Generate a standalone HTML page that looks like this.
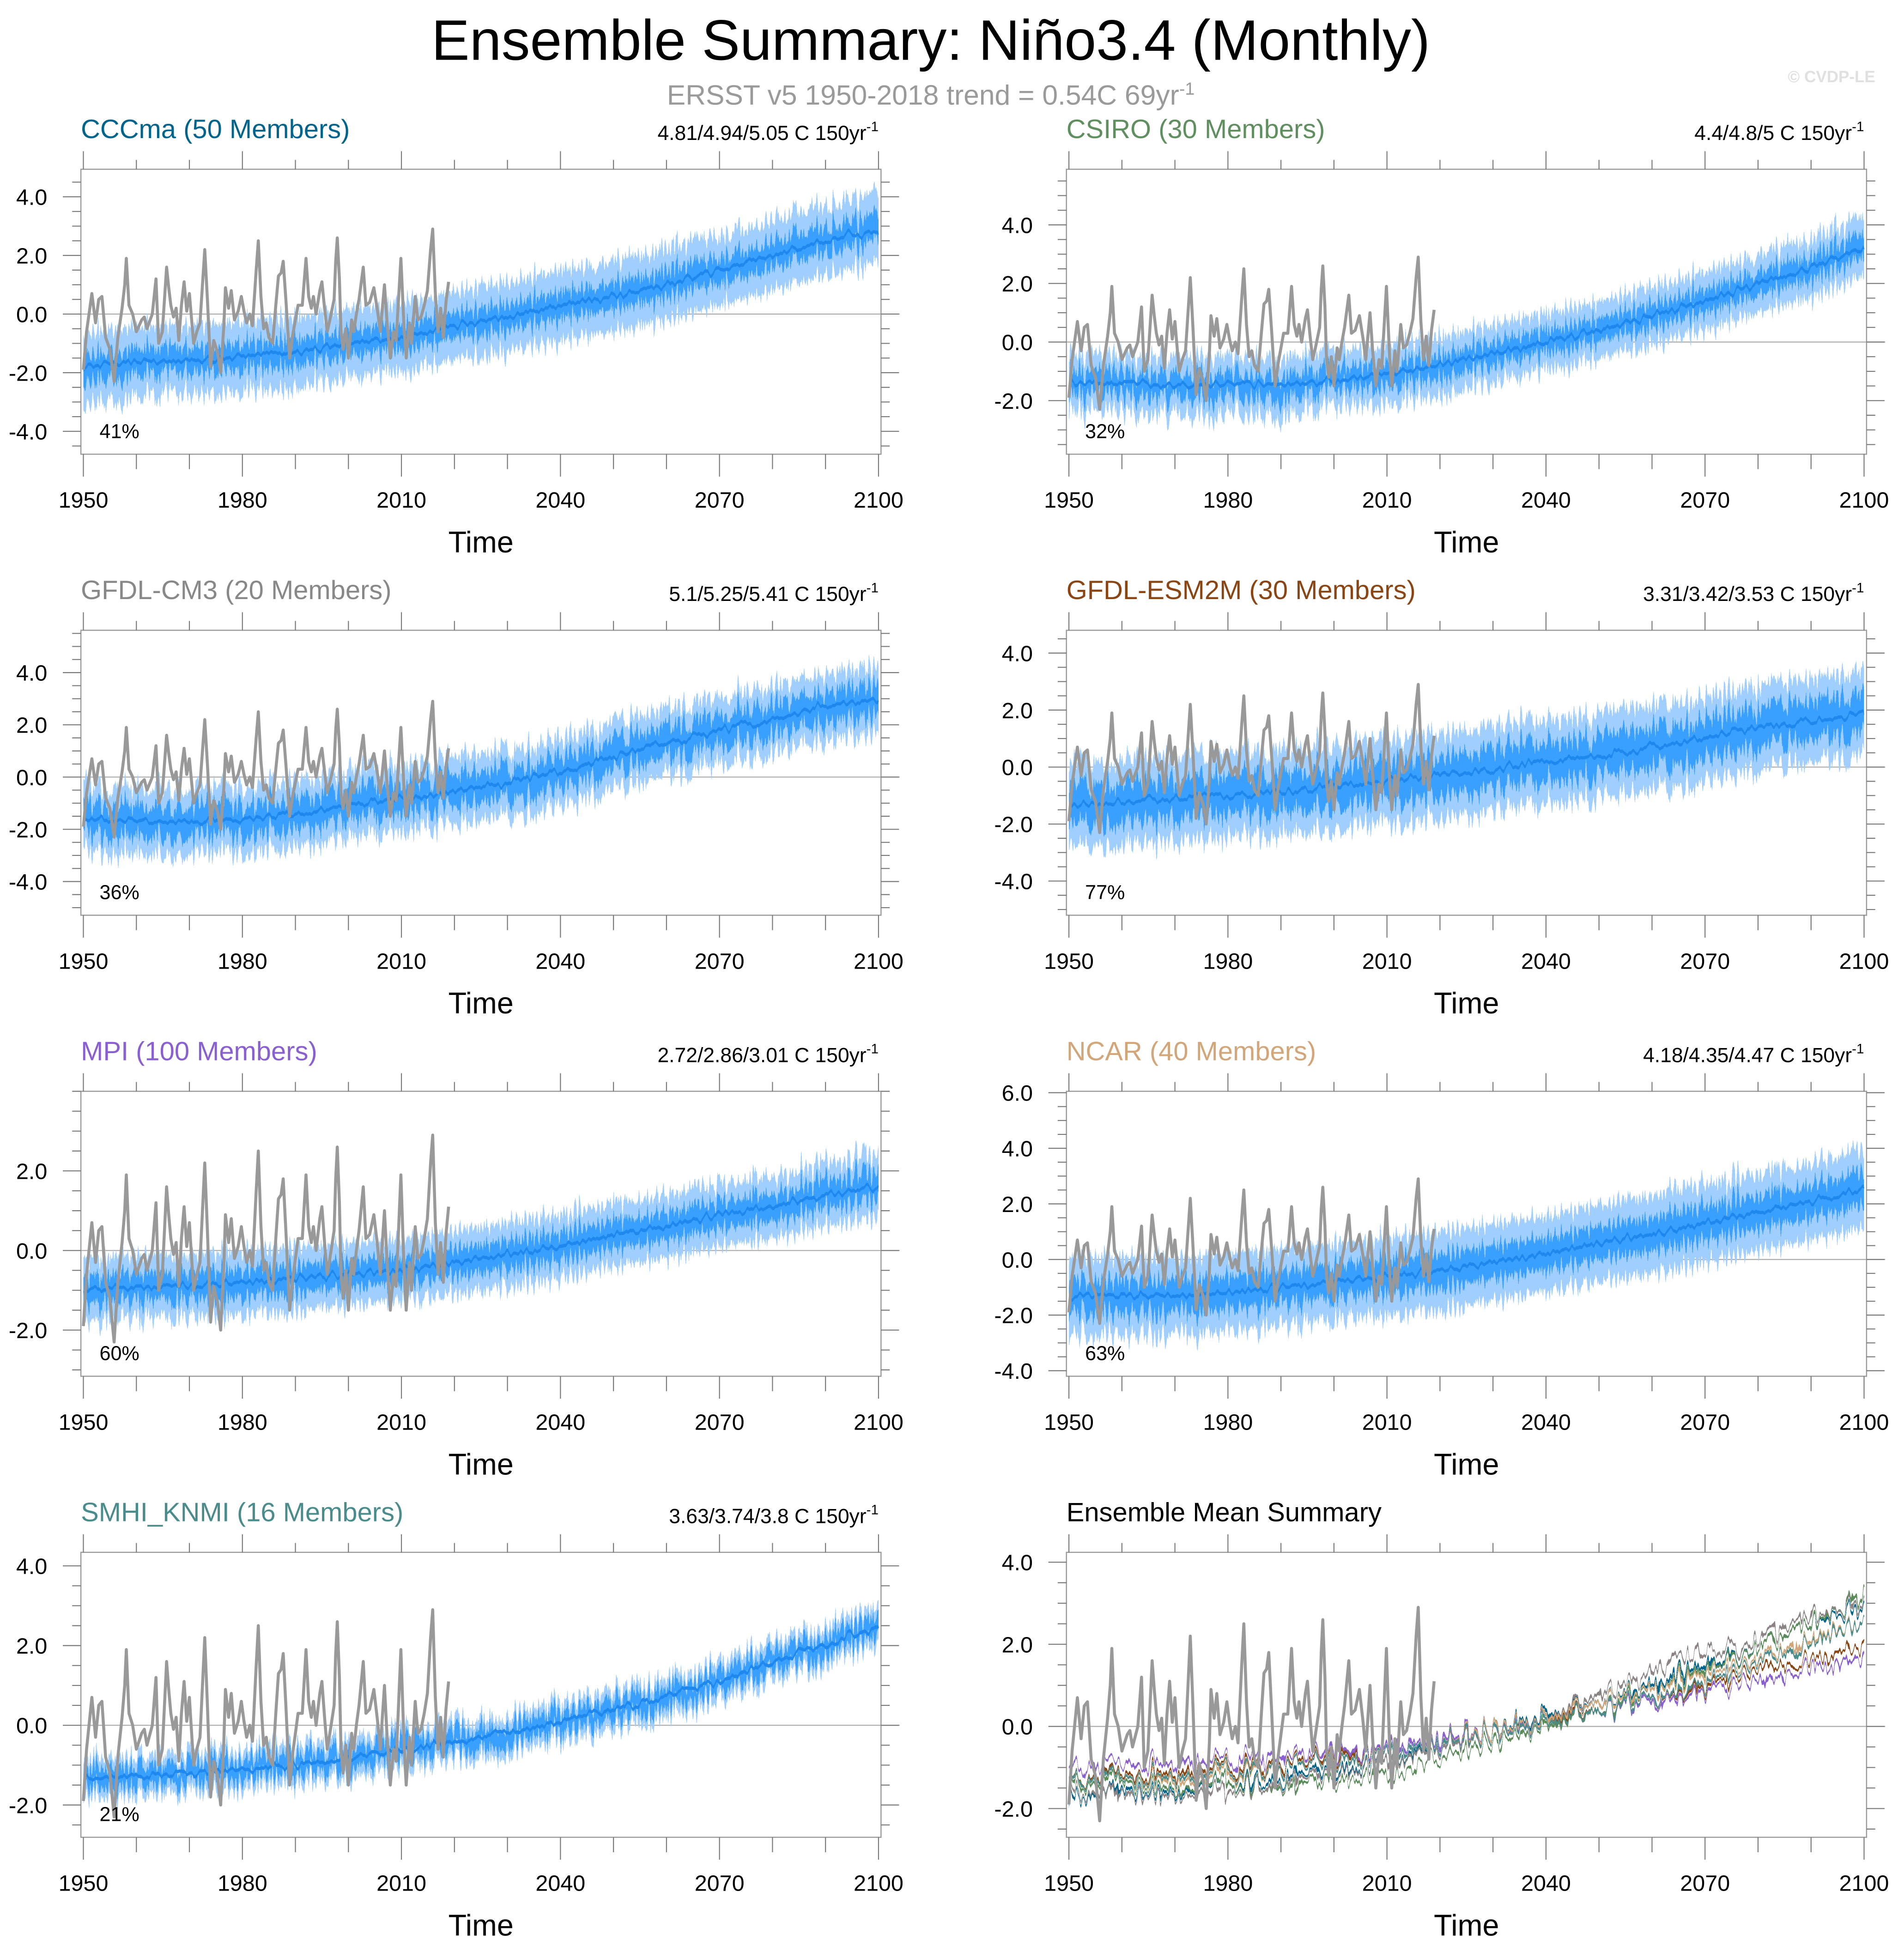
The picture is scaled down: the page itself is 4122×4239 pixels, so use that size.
<!DOCTYPE html>
<html><head><meta charset="utf-8">
<style>
html,body{margin:0;padding:0;background:#fff;}
svg{display:block;font-family:"Liberation Sans",sans-serif;}
</style></head>
<body>
<svg id="chart" xmlns="http://www.w3.org/2000/svg" width="4122" height="4239" viewBox="0 0 1530.1 1573.5">
<defs>
<filter id="spiky" x="-0.02" y="-0.6" width="1.04" height="2.2" primitiveUnits="userSpaceOnUse" color-interpolation-filters="sRGB">
  <feTurbulence type="fractalNoise" baseFrequency="0.55 0.004" numOctaves="2" seed="3" result="t"/>
  <feColorMatrix in="t" type="matrix" values="0 0 0 0 0.5  0 1 0 0 0  0 0 1 0 0  0 0 0 1 0" result="m"/>
  <feDisplacementMap in="SourceGraphic" in2="m" scale="38" xChannelSelector="R" yChannelSelector="G"/>
</filter>
<filter id="wiggle" x="-0.02" y="-0.6" width="1.04" height="2.2" primitiveUnits="userSpaceOnUse" color-interpolation-filters="sRGB">
  <feTurbulence type="fractalNoise" baseFrequency="0.2 0.004" numOctaves="2" seed="7" result="t"/>
  <feColorMatrix in="t" type="matrix" values="0 0 0 0 0.5  0 1 0 0 0  0 0 1 0 0  0 0 0 1 0" result="m"/>
  <feDisplacementMap in="SourceGraphic" in2="m" scale="12" xChannelSelector="R" yChannelSelector="G"/>
</filter>
<filter id="wiggle2" x="-0.02" y="-0.6" width="1.04" height="2.2" primitiveUnits="userSpaceOnUse" color-interpolation-filters="sRGB">
  <feTurbulence type="fractalNoise" baseFrequency="0.25 0.02" numOctaves="2" seed="11" result="t"/>
  <feColorMatrix in="t" type="matrix" values="0 0 0 0 0.5  0 1 0 0 0  0 0 1 0 0  0 0 0 1 0" result="m"/>
  <feDisplacementMap in="SourceGraphic" in2="m" scale="36" xChannelSelector="R" yChannelSelector="G"/>
</filter>
</defs>
<text x="748" y="48" font-size="46" text-anchor="middle" fill="#000">Ensemble Summary: Niño3.4 (Monthly)</text>
<text x="748" y="84" font-size="22.5" text-anchor="middle" fill="#9a9a9a">ERSST v5 1950-2018 trend = 0.54C 69yr<tspan dy="-8" font-size="14">-1</tspan></text>
<text x="1507" y="66" font-size="13" font-weight="bold" text-anchor="end" fill="#e0e0e0">© CVDP-LE</text>
<g id="panels"></g>
</svg>
<script>
// ---- Observed ERSST Niño3.4 (years, values) ----
var obsYears = [1950.0,1950.6,1951.6,1952.3,1952.9,1953.5,1954.2,1955.0,1955.8,1956.5,1957.3,1957.8,1958.1,1958.6,1959.3,1960.0,1961.0,1961.5,1962.0,1963.0,1963.7,1964.2,1964.9,1965.7,1966.1,1966.5,1967.0,1967.5,1968.0,1968.5,1969.0,1969.5,1970.0,1970.8,1971.4,1972.0,1972.9,1973.4,1974.0,1974.6,1975.3,1975.9,1976.5,1976.8,1977.4,1977.9,1978.5,1979.2,1979.8,1980.3,1980.8,1981.4,1981.9,1982.6,1983.0,1983.5,1984.0,1984.5,1985.0,1985.7,1986.3,1986.8,1987.3,1987.7,1988.2,1988.9,1989.5,1990.0,1990.5,1991.3,1992.0,1992.5,1993.0,1993.4,1993.9,1994.6,1995.0,1995.5,1996.0,1996.5,1997.3,1997.6,1997.9,1998.3,1998.6,1999.0,1999.5,2000.0,2000.6,2001.0,2001.5,2002.0,2002.8,2003.3,2004.0,2004.8,2005.5,2006.0,2006.8,2007.3,2007.9,2008.5,2009.0,2009.9,2010.5,2010.9,2011.5,2011.9,2012.6,2013.1,2013.7,2014.3,2014.9,2015.5,2015.9,2016.4,2016.9,2017.4,2017.9,2018.4,2018.9];
var obsValues = [-1.9,-0.6,0.7,-0.3,0.5,0.6,-0.8,-1.2,-2.3,-0.8,0.2,1.0,1.9,0.3,0.0,-0.6,-0.2,-0.1,-0.5,0.0,1.2,-1.0,-0.6,1.6,0.9,0.3,-0.1,0.2,-0.9,0.3,1.1,0.1,0.7,-1.0,-0.6,-0.3,2.2,0.5,-1.8,-0.9,-1.3,-2.0,-0.4,0.9,0.2,0.8,-0.2,0.1,0.6,0.1,-0.3,0.0,-0.4,1.5,2.5,0.6,-0.5,-0.3,-0.8,-1.0,0.3,1.3,1.4,1.8,0.5,-1.5,-0.7,-0.2,0.3,0.3,1.9,0.6,0.2,0.6,0.0,0.8,1.1,0.2,-0.6,-0.2,0.5,1.8,2.6,1.2,-0.6,-1.2,-0.5,-1.5,-0.2,-0.6,0.0,0.5,1.6,0.3,0.4,0.9,0.1,-0.6,1.0,-0.3,-1.5,-0.6,-0.9,1.9,-0.5,-1.5,-0.3,-1.0,0.6,-0.2,-0.1,0.3,0.8,2.2,2.9,0.7,-0.6,0.2,-0.8,0.4,1.1];

// ---- Ensemble data: means at decades 1950..2100 ----
var decades = [1950,1960,1970,1980,1990,2000,2010,2020,2030,2040,2050,2060,2070,2080,2090,2100];
var meanCCCma  = [-1.8,-1.6,-1.6,-1.4,-1.3,-1.0,-0.8,-0.4,-0.1,0.3,0.6,1.0,1.5,2.0,2.5,2.9];
var meanCSIRO  = [-1.4,-1.4,-1.5,-1.4,-1.5,-1.3,-1.1,-0.8,-0.4,0.0,0.4,0.9,1.4,2.0,2.5,3.2];
var meanCM3    = [-1.6,-1.7,-1.7,-1.6,-1.4,-1.1,-0.8,-0.5,-0.2,0.2,0.8,1.3,1.8,2.2,2.7,3.0];
var meanESM2M  = [-1.3,-1.2,-1.1,-1.0,-0.9,-0.7,-0.5,-0.3,-0.1,0.2,0.4,0.7,1.0,1.4,1.6,1.9];
var meanMPI    = [-1.0,-0.9,-0.9,-0.8,-0.7,-0.6,-0.5,-0.3,-0.1,0.1,0.4,0.6,0.9,1.1,1.4,1.6];
var meanNCAR   = [-1.3,-1.3,-1.3,-1.2,-1.0,-0.8,-0.6,-0.4,-0.1,0.2,0.6,0.9,1.3,1.7,2.1,2.5];
var meanSMHI   = [-1.3,-1.3,-1.2,-1.1,-1.0,-0.8,-0.6,-0.4,-0.2,0.1,0.4,0.7,1.1,1.6,2.0,2.5];
// band half-widths (inner = dark band, outer = light band)
var innerSpread = [0.45,0.4,0.6,0.7,0.35,0.6,0.25];
var outerSpread = [1.2,1.0,1.3,1.5,0.8,1.4,0.5];
var modelNames = ["CCCma (50 Members)","CSIRO (30 Members)","GFDL-CM3 (20 Members)","GFDL-ESM2M (30 Members)","MPI (100 Members)","NCAR (40 Members)","SMHI_KNMI (16 Members)"];
var trendLabels = ["4.81/4.94/5.05 C 150yr","4.4/4.8/5 C 150yr","5.1/5.25/5.41 C 150yr","3.31/3.42/3.53 C 150yr","2.72/2.86/3.01 C 150yr","4.18/4.35/4.47 C 150yr","3.63/3.74/3.8 C 150yr"];
var pctLabels = ["41%","32%","36%","77%","60%","63%","21%"];
var yTicks = [[-4,-2,0,2,4],[-2,0,2,4],[-4,-2,0,2,4],[-4,-2,0,2,4],[-2,0,2],[-4,-2,0,2,4,6],[-2,0,2,4],[-2,0,2,4]];
var yRanges = [[-4.78,4.94],[-3.83,5.9],[-5.29,5.62],[-5.2,4.8],[-3.16,4.0],[-4.2,6.05],[-2.81,4.34],[-2.7,4.24]];
var xTickYears = [1950,1980,2010,2040,2070,2100];

var allMeans = [meanCCCma,meanCSIRO,meanCM3,meanESM2M,meanMPI,meanNCAR,meanSMHI];
var titleColors = ["#00648c","#5f8f5f","#888888","#8b4513","#8a60d0","#d2a679","#4a8c8c"];
var summaryColors = ["#00648c","#5a8c5a","#8c8484","#8b4513","#8a60d0","#d2a679","#4a8c8c"];
var NS="http://www.w3.org/2000/svg";
var root=document.getElementById('panels');
function mk(tag,attrs,parent){var e=document.createElementNS(NS,tag);for(var k in attrs)e.setAttribute(k,attrs[k]);(parent||root).appendChild(e);return e;}
function interp(xs,ys,x){if(x<=xs[0])return ys[0];for(var i=1;i<xs.length;i++){if(x<=xs[i]){var f=(x-xs[i-1])/(xs[i]-xs[i-1]);return ys[i-1]+f*(ys[i]-ys[i-1]);}}return ys[ys.length-1];}

for(var p=0;p<8;p++){
  var col=p%2,row=Math.floor(p/2);
  var ox=col*792,oy=row*370.5;
  var bx0=65+ox,bx1=708+ox,by0=136+oy,by1=365+oy;
  var tx0=67+ox,tx1=706+ox;
  var yr=yRanges[p];
  var X=(function(a,b){return function(t){return a+(t-1950)*(b-a)/150;};})(tx0,tx1);
  var Y=(function(r,t0,t1){return function(v){return t1-(v-r[0])*(t1-t0)/(r[1]-r[0]);};})(yr,by0,by1);
  var g=mk('g',{});
  
  
  var cid='clip'+p;
  var cp=mk('clipPath',{id:cid},g);mk('rect',{x:bx0,y:by0,width:bx1-bx0,height:by1-by0},cp);
  var zl=mk('line',{x1:bx0,x2:bx1+15,y1:Y(0),y2:Y(0),stroke:'#aaaaaa','stroke-width':0.8},g);
  
  
  var plot=mk('g',{'clip-path':'url(#'+cid+')'},g);
  var N=301;
  if(p<7){
    var m=allMeans[p];
    var bands=[[outerSpread[p],'#a0cfff','outer-spread-band'],[innerSpread[p],'#3aa0ff','inner-spread-band']];
    var fg=mk('g',{filter:'url(#spiky)'},plot);
    bands.forEach(function(b){
      var up=[],dn=[];
      for(var i=0;i<N;i++){var t=1950+i*0.5;var v=interp(decades,m,t);up.push(X(t).toFixed(2)+','+Y(v+b[0]).toFixed(2));dn.push(X(t).toFixed(2)+','+Y(v-b[0]).toFixed(2));}
      var pe=mk('polygon',{points:up.concat(dn.reverse()).join(' '),fill:b[1]},fg);
      
      
    });
    var pts=[];for(var i=0;i<N;i++){var t=1950+i*0.5;pts.push(X(t).toFixed(2)+','+Y(interp(decades,m,t)).toFixed(2));}
    var ml=mk('polyline',{points:pts.join(' '),fill:'none',stroke:'#1e88ee','stroke-width':2.6,filter:'url(#wiggle)'},plot);
    
    
  } else {
    for(var k=0;k<7;k++){
      var pts=[];for(var i=0;i<N;i++){var t=1950+i*0.5;pts.push(X(t).toFixed(2)+','+Y(interp(decades,allMeans[k],t)).toFixed(2));}
      var sl=mk('polyline',{points:pts.join(' '),fill:'none',stroke:summaryColors[k],'stroke-width':2.6,filter:'url(#wiggle2)'},plot);
      
      
    }
  }
  var op=obsYears.map(function(t,i){return X(t).toFixed(2)+','+Y(obsValues[i]).toFixed(2);});
  var ol=mk('polyline',{points:op.join(' '),fill:'none',stroke:'#999999','stroke-width':2.4,'stroke-linejoin':'round'},plot);
  
  
  var fr=mk('rect',{x:bx0,y:by0,width:bx1-bx0,height:by1-by0,fill:'none',stroke:'#999999','stroke-width':0.9},g);
  
  
  for(var yy=1950;yy<=2100;yy+=10){
    var major=(yy-1950)%30===0;var L=major?14.5:7.5;
    mk('line',{x1:X(yy),x2:X(yy),y1:by0,y2:by0-L,stroke:'#777','stroke-width':0.8},g);
    mk('line',{x1:X(yy),x2:X(yy),y1:by1,y2:by1+(major?18:12),stroke:'#777','stroke-width':0.8},g);
  }
  xTickYears.forEach(function(yy){
    var t=mk('text',{x:X(yy),y:408+oy,'font-size':18,'text-anchor':'middle',fill:'#000'},g);
    
    
    t.textContent=yy;
  });
  for(var v=Math.ceil(yr[0]*2)/2;v<=yr[1];v+=0.5){
    var isMaj=yTicks[p].indexOf(v)>=0;var L=isMaj?14.5:7;
    mk('line',{x1:bx0,x2:bx0-L,y1:Y(v),y2:Y(v),stroke:'#777','stroke-width':0.8},g);
    mk('line',{x1:bx1,x2:bx1+L,y1:Y(v),y2:Y(v),stroke:'#777','stroke-width':0.8},g);
  }
  yTicks[p].forEach(function(v){
    var t=mk('text',{x:bx0-27,y:Y(v)+6.5,'font-size':18,'text-anchor':'end',fill:'#000'},g);
    
    
    t.textContent=v.toFixed(1);
  });
  var xt=mk('text',{x:(bx0+bx1)/2,y:444+oy,'font-size':24,'text-anchor':'middle',fill:'#000'},g);
  
  
  xt.textContent='Time';
  var tt=mk('text',{x:bx0,y:111+oy,'font-size':21.5,fill:p<7?titleColors[p]:'#000'},g);
  
  
  tt.textContent=p<7?modelNames[p]:'Ensemble Mean Summary';
  if(p<7){
    var tr=mk('text',{x:bx1-2,y:112.5+oy,'font-size':16.5,'text-anchor':'end',fill:'#000'},g);
    
    
    tr.appendChild(document.createTextNode(trendLabels[p]));
    var sp=mk('tspan',{dy:-7,'font-size':11},tr);sp.textContent='-1';
    var pc=mk('text',{x:bx0+15,y:352+oy,'font-size':16,fill:'#000'},g);
    
    
    pc.textContent=pctLabels[p];
  }
}
</script>
</body></html>
